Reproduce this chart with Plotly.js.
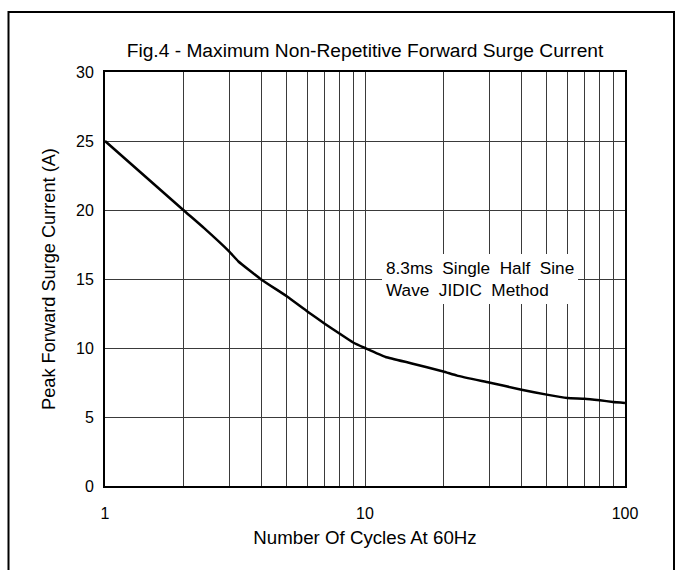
<!DOCTYPE html>
<html>
<head>
<meta charset="utf-8">
<script src="https://cdn.plot.ly/plotly-3.0.1.min.js"></script>
<style>html,body{margin:0;padding:0;background:#fff;}#chart{width:682px;height:570px;}</style>
</head>
<body>
<div id="chart"></div>
<script>
// Data
const cycles = [1, 2, 2.4, 3, 3.26, 4, 5, 6, 7, 8, 9, 10, 12, 15, 20, 22.6, 30, 40, 50, 60, 70, 80, 90, 100];
const surgeCurrent = [25, 20, 18.7, 17.0, 16.27, 14.95, 13.75, 12.65, 11.76, 11.03, 10.4, 10.0, 9.35, 8.9, 8.3, 8.0, 7.5, 6.98, 6.62, 6.38, 6.33, 6.21, 6.09, 6.02];

const xTickVals = [1, 2, 3, 4, 5, 6, 7, 8, 9, 10, 20, 30, 40, 50, 60, 70, 80, 90, 100];
const xTickText = ['1', '', '', '', '', '', '', '', '', '10', '', '', '', '', '', '', '', '', '100'];
const yTickVals = [0, 5, 10, 15, 20, 25, 30];

const chartTitle = 'Fig.4 - Maximum Non-Repetitive Forward Surge Current';
const xTitle = 'Number Of Cycles At 60Hz';
const yTitle = 'Peak Forward Surge Current (A)';
const noteLines = ['8.3ms\u00a0\u00a0Single\u00a0\u00a0Half\u00a0\u00a0Sine', 'Wave\u00a0\u00a0JIDIC\u00a0\u00a0Method'];

const FONT = 'Liberation Sans, Arial, Helvetica, sans-serif';

const trace = {
  x: cycles,
  y: surgeCurrent,
  type: 'scatter',
  mode: 'lines',
  line: {color: '#000', width: 2.5, shape: 'spline', smoothing: 0.4},
  hoverinfo: 'skip'
};

const layout = {
  width: 682,
  height: 570,
  margin: {l: 105, r: 57, t: 72, b: 84},
  paper_bgcolor: '#fff',
  plot_bgcolor: '#fff',
  showlegend: false,
  font: {family: FONT, color: '#000', size: 16},
  title: {
    text: chartTitle,
    font: {family: FONT, size: 19.2, color: '#000'},
    x: 0.5, xref: 'paper', xanchor: 'center',
    y: 1 - 50 / 570, yref: 'container', yanchor: 'middle'
  },
  xaxis: {
    type: 'log',
    range: [0, 2],
    tickmode: 'array',
    tickvals: xTickVals,
    ticktext: xTickText,
    ticks: 'outside',
    ticklen: 12,
    tickcolor: 'rgba(0,0,0,0)',
    tickfont: {family: FONT, size: 16, color: '#000'},
    showgrid: true,
    gridcolor: '#3a3a3a',
    gridwidth: 1,
    showline: true,
    linecolor: '#000',
    linewidth: 2,
    mirror: true,
    zeroline: false,
    title: {text: xTitle, font: {family: FONT, size: 18.7, color: '#000'}, standoff: 10}
  },
  yaxis: {
    range: [0, 30],
    tickmode: 'array',
    tickvals: yTickVals,
    ticks: 'outside',
    ticklen: 6,
    tickcolor: 'rgba(0,0,0,0)',
    tickfont: {family: FONT, size: 16, color: '#000'},
    showgrid: true,
    gridcolor: '#3a3a3a',
    gridwidth: 1,
    showline: true,
    linecolor: '#000',
    linewidth: 2,
    mirror: true,
    zeroline: false,
    title: {text: yTitle, font: {family: FONT, size: 18.2, color: '#000'}, standoff: 16}
  },
  annotations: [{
    xref: 'paper', yref: 'paper',
    x: (382 - 105) / 520, y: (486 - 278.5) / 414,
    xanchor: 'left', yanchor: 'middle',
    text: noteLines.join('<br>'),
    align: 'left',
    showarrow: false,
    bgcolor: '#fff',
    borderpad: 4,
    borderwidth: 0,
    font: {family: FONT, size: 17.2, color: '#000'}
  }],
  shapes: [{
    type: 'rect', xref: 'paper', yref: 'paper',
    x0: (8.5 - 105) / 520, x1: (674 - 105) / 520,
    y0: -0.4, y1: (486 - 12) / 414,
    line: {color: '#000', width: 2},
    fillcolor: 'rgba(0,0,0,0)',
    layer: 'below'
  }]
};

Plotly.newPlot('chart', [trace], layout, {displayModeBar: false, staticPlot: true});
</script>
</body>
</html>
